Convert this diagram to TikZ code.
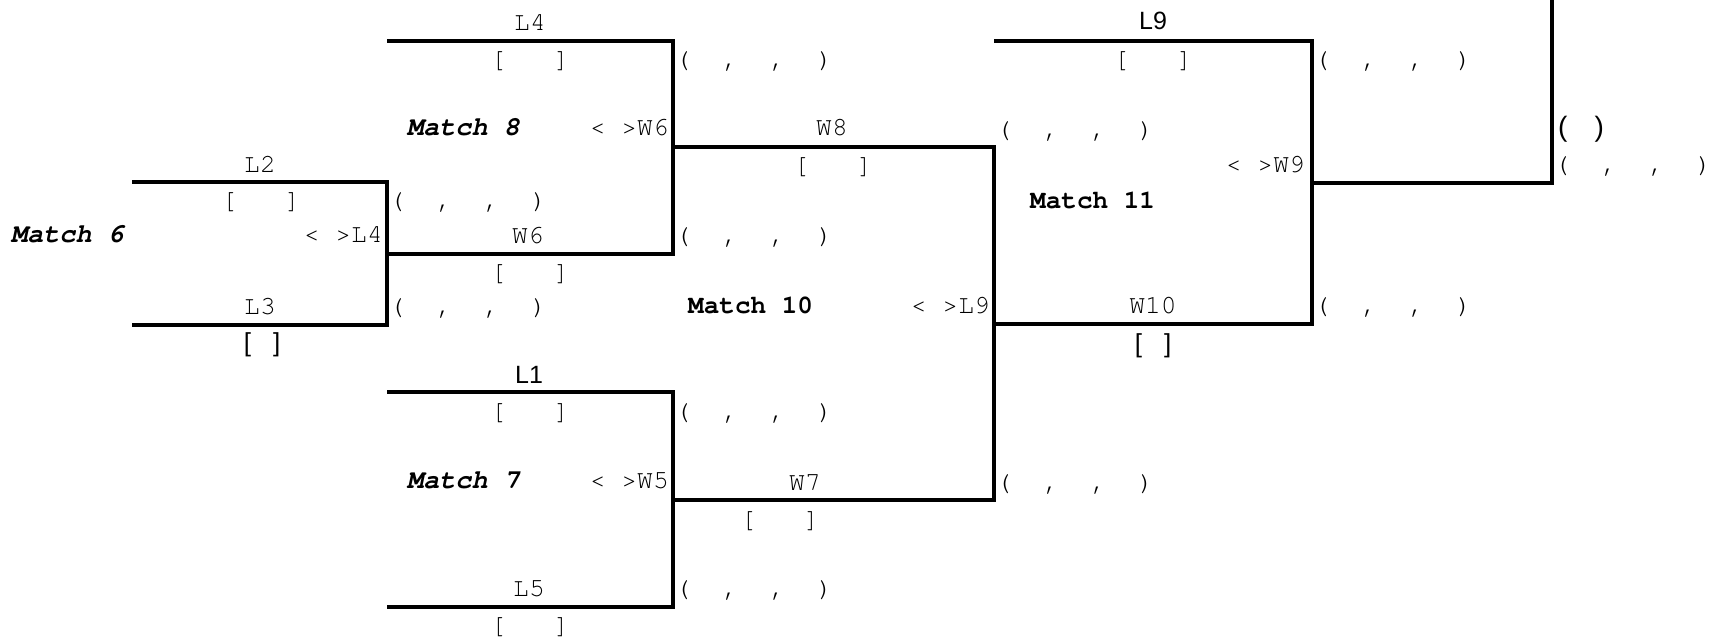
\documentclass[tikz,border=0pt]{standalone}
\usepackage{fontspec}
\newfontfamily\monof{TeX Gyre Cursor}
\newfontfamily\sansf{Liberation Sans}
\begin{document}
\begin{tikzpicture}[x=1pt,y=-1pt,
  bline/.style={line width=4.2pt},
  mt/.style={font=\monof\fontsize{26.3}{30}\selectfont, inner sep=0pt, anchor=base},
  mtw/.style={mt, anchor=base west},
  mte/.style={mt, anchor=base east},
  st/.style={font=\sansf\fontsize{25}{29}\selectfont, inner sep=0pt, anchor=base},
  sb/.style={font=\sansf\fontsize{26}{30}\selectfont, inner sep=0pt, anchor=base},
  mtitle/.style={font=\monof\bfseries\itshape\fontsize{26.8}{30}\selectfont, inner sep=0pt, anchor=base west},
  mtitleb/.style={font=\monof\bfseries\fontsize{26}{30}\selectfont, inner sep=0pt, anchor=base west}]
\useasboundingbox (0,0) rectangle (1722,638);
% bracket corners
\coordinate (a2) at (132,182);
\coordinate (a3) at (132,325);
\coordinate (m6b) at (387,325);
\coordinate (m6out) at (387,254);
\coordinate (a4) at (387,41);
\coordinate (m8b) at (673,254);
\coordinate (m8out) at (673,147);
\coordinate (a1) at (387,392);
\coordinate (a5) at (387,607);
\coordinate (m7b) at (673,607);
\coordinate (m7out) at (673,500);
\coordinate (m10b) at (994,500);
\coordinate (m10out) at (994,324);
\coordinate (a9) at (994,41);
\coordinate (m11b) at (1312,324);
\coordinate (m11out) at (1312,183);
\coordinate (topend) at (1552,-4);
% brackets
\draw[bline] (a2) -| (m6b) -- (a3);
\draw[bline] (a4) -| (m8b) -- (m6out);
\draw[bline] (a1) -| (m7b) -- (a5);
\draw[bline] (m8out) -| (m10b) -- (m7out);
\draw[bline] (a9) -| (m11b) -- (m10out);
\draw[bline] (m11out) -| (topend);
% Match 6
\node[mtitle] (t6) at (11,242) {Match 6};
\node[mt] (l2) at (260,172) {L2};
\node[mt] (b2) at (261,208) {[~~~]};
\node[mt] (l3) at (260,314) {L3};
\node[sb] (b3) at (262,351) {[\hspace*{22pt}]};
\node[mte] (w6a) at (383,242) {<~>L4};
\node[mtw] (p6a) at (389,208) {(~~,~~,~~)};
\node[mtw] (p6b) at (389,314) {(~~,~~,~~)};
% Match 8
\node[mtitle] (t8) at (407,135) {Match 8};
\node[mt] (l4) at (530,30) {L4};
\node[mt] (b4) at (530,67) {[~~~]};
\node[mt] (w6) at (528,243) {W6};
\node[mt] (bw6) at (530,280) {[~~~]};
\node[mte] (w8a) at (669,135) {<~>W6};
\node[mtw] (p8a) at (675,67) {(~~,~~,~~)};
\node[mtw] (p8b) at (675,243) {(~~,~~,~~)};
% Match 7
\node[mtitle] (t7) at (407,488) {Match 7};
\node[st] (l1) at (529,383) {L1};
\node[mt] (b1) at (530,419) {[~~~]};
\node[mt] (l5) at (529,596) {L5};
\node[mt] (b5) at (530,633) {[~~~]};
\node[mte] (w7a) at (669,488) {<~>W5};
\node[mtw] (p7a) at (675,419) {(~~,~~,~~)};
\node[mtw] (p7b) at (675,596) {(~~,~~,~~)};
% Match 10
\node[mtitleb] (t10) at (688,313) {Match 10};
\node[mt] (w8) at (832,135) {W8};
\node[mt] (bw8) at (833,173) {[~~~]};
\node[mt] (w7) at (805,490) {W7};
\node[mt] (bw7) at (780,527) {[~~~]};
\node[mte] (l9a) at (990,313) {<~>L9};
\node[mtw] (p10a) at (996,137) {(~~,~~,~~)};
\node[mtw] (p10b) at (996,490) {(~~,~~,~~)};
% Match 11
\node[mtitleb] (t11) at (1030,208) {Match 11};
\node[st] (l9) at (1153,29) {L9};
\node[mt] (b9) at (1153,67) {[~~~]};
\node[mt] (w10) at (1153,313) {W10};
\node[sb] (bw10) at (1153,352) {[\hspace*{22pt}]};
\node[mte] (w9a) at (1305,172) {<~>W9};
\node[mtw] (p11a) at (1314,67) {(~~,~~,~~)};
\node[mtw] (p11b) at (1314,313) {(~~,~~,~~)};
% final
\node[font=\sansf\fontsize{28}{32}\selectfont, inner sep=0pt, anchor=base] (fin) at (1581,136) {(\hspace*{27pt})};
\node[mtw] (pfin) at (1554,172) {(~~,~~,~~)};
\end{tikzpicture}
\end{document}
